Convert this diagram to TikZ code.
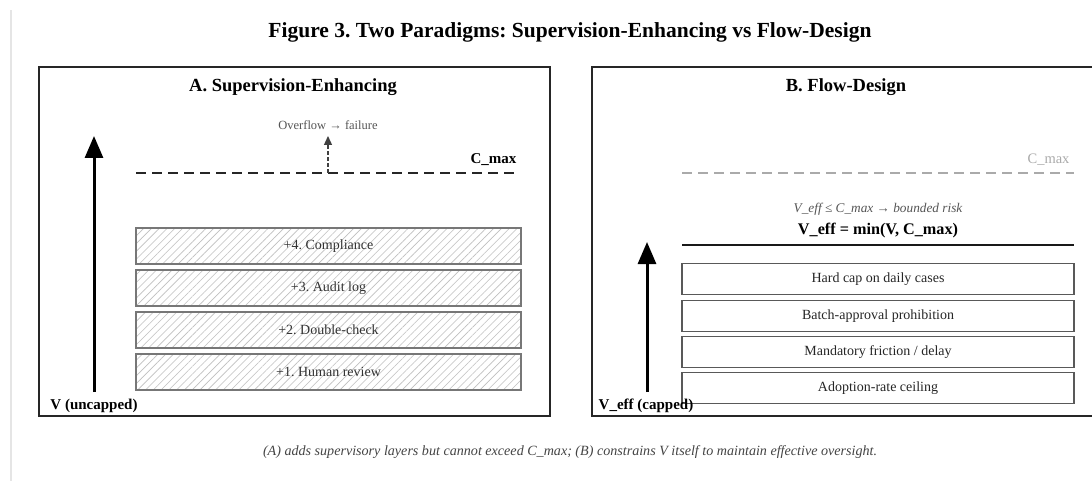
\documentclass[tikz,border=0pt]{standalone}
\usepackage{fontspec}
\setmainfont{Liberation Serif}
\usetikzlibrary{arrows.meta,patterns.meta}
\definecolor{txtgray}{HTML}{555555}
\definecolor{lightgray2}{HTML}{AAAAAA}
\definecolor{edgegray}{HTML}{777777}
\definecolor{capgray}{HTML}{444444}
\frenchspacing
\begin{document}
\begin{tikzpicture}[x=1pt,y=-1pt,
  panel/.style={draw=black!85, line width=1.6pt, anchor=north west, inner sep=0pt},
  ptitle/.style={font=\bfseries\fontsize{18.5}{21}\selectfont},
  hbox/.style={draw=edgegray, line width=1.3pt, minimum width=385pt, minimum height=36pt, inner sep=0pt,
    pattern={Lines[angle=45,distance=5.5pt,line width=0.6pt]}, pattern color=black!25,
    font=\fontsize{14}{16}\selectfont, text=black!80},
  fbox/.style={draw=black!65, line width=1.2pt, minimum width=392pt, minimum height=31pt, inner sep=0pt,
    font=\fontsize{14}{16}\selectfont, text=black!85},
  axlabel/.style={font=\bfseries\fontsize{15}{17}\selectfont},
  bigarrow/.style={line width=3pt, -{Triangle[width=18pt,length=22pt]}}
]
\clip (0,0) rectangle (1092,481);
\fill[white] (0,0) rectangle (1092,481);
\fill[black!10] (9.5,10) rectangle (12,481);

\node[font=\bfseries\fontsize{21.5}{24}\selectfont] (title) at (570,32) {Figure 3. Two Paradigms: Supervision-Enhancing vs Flow-Design};

% Panel A
\node[panel, minimum width=511pt, minimum height=349pt] (pa) at (38,66) {};
\node[ptitle] (pat) at (293,87) {A. Supervision-Enhancing};
\node[font=\fontsize{12.5}{14}\selectfont, text=txtgray] (ovf) at (328,125) {Overflow → failure};
\coordinate (cl) at (136,173);
\coordinate (cr) at (518,173);
\coordinate (cm) at (328,173);
\draw[line width=2pt, dash pattern=on 10pt off 6pt, black!85] (cl) -- (cr);
\draw[line width=1.3pt, dash pattern=on 3.5pt off 2.5pt, black!75, -{Triangle[width=8pt,length=9pt]}] (cm) -- (328,136);
\node[font=\bfseries\fontsize{15}{17}\selectfont, anchor=east] (cmaxa) at (520,160) {C\_max};
\node[hbox] (a4) at (328.5,246) {+4. Compliance};
\node[hbox] (a3) at (328.5,288) {+3. Audit log};
\node[hbox] (a2) at (328.5,330) {+2. Double-check};
\node[hbox] (a1) at (328.5,372) {+1. Human review};
\coordinate (va0) at (94,392);
\coordinate (va1) at (94,136);
\draw[bigarrow] (va0) -- (va1);
\node[axlabel] (vun) at (94,406) {V (uncapped)};

% Panel B
\node[panel, minimum width=560pt, minimum height=349pt] (pb) at (591,66) {};
\node[ptitle] (pbt) at (846,87) {B. Flow-Design};
\coordinate (bl) at (682,173);
\coordinate (br) at (1074,173);
\draw[line width=1.3pt, dash pattern=on 10pt off 6pt, lightgray2] (bl) -- (br);
\node[font=\fontsize{14.5}{16}\selectfont, text=lightgray2, anchor=east] (cmaxb) at (1073,160) {C\_max};
\node[font=\itshape\fontsize{13.3}{15}\selectfont, text=txtgray] (bnd) at (878,209) {V\_eff ≤ C\_max → bounded risk};
\node[font=\bfseries\fontsize{16.2}{18}\selectfont] (veq) at (878,231) {V\_eff = min(V, C\_max)};
\coordinate (sl) at (682,245);
\coordinate (sr) at (1074,245);
\draw[line width=2.6pt, black!90] (sl) -- (sr);
\node[fbox] (b4) at (878,279) {Hard cap on daily cases};
\node[fbox] (b3) at (878,316) {Batch-approval prohibition};
\node[fbox] (b2) at (878,352) {Mandatory friction / delay};
\node[fbox] (b1) at (878,388) {Adoption-rate ceiling};
\coordinate (vb0) at (647,392);
\coordinate (vb1) at (647,242);
\draw[bigarrow] (vb0) -- (vb1);
\node[axlabel] (vcap) at (646,406) {V\_eff (capped)};

% caption
\node[font=\itshape\fontsize{14.1}{16}\selectfont, text=capgray] (cap) at (570,452) {(A) adds supervisory layers but cannot exceed C\_max; (B) constrains V itself to maintain effective oversight.};
\end{tikzpicture}
\end{document}
